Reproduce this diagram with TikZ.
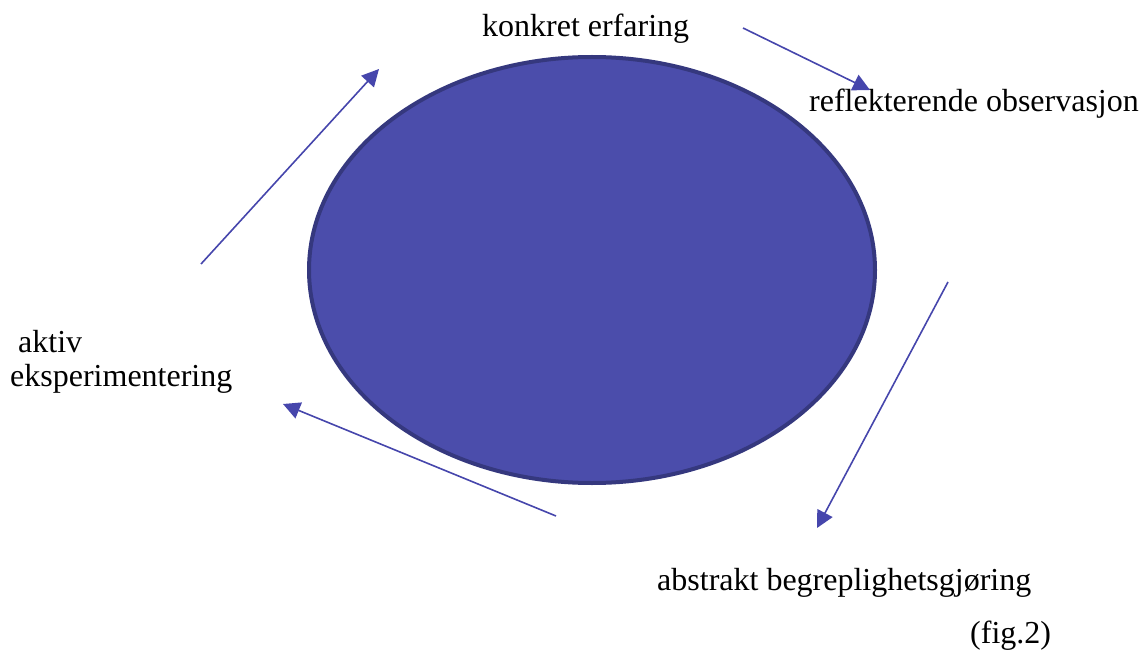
\documentclass[tikz,border=0pt]{standalone}
\usepackage{fontspec}
\setmainfont{Liberation Serif}
\usetikzlibrary{arrows.meta}
\definecolor{ellfill}{HTML}{4B4DAB}
\definecolor{elldraw}{HTML}{35387E}
\definecolor{arrcol}{HTML}{4646AC}
\tikzset{
  lbl/.style={anchor=base west, inner sep=0pt, font=\fontsize{32}{38}\selectfont},
  cyclearrow/.style={draw=arrcol, line width=1.6pt, -{Triangle[length=17pt,width=17pt]}}
}
\begin{document}
\begin{tikzpicture}[x=1pt,y=-1pt]
\useasboundingbox (0,0) rectangle (1141,650);
\draw[fill=ellfill, draw=elldraw, line width=4pt] (592,270) ellipse [x radius=283, y radius=213];
\node[lbl] (ke) at (482,37) {konkret erfaring};
\node[lbl] (ro) at (809,112) {reflekterende observasjon};
\node[lbl] (ak) at (18,352) {aktiv};
\node[lbl] (ex) at (10,386) {eksperimentering};
\node[lbl] (ab) at (657,590) {abstrakt begreplighetsgjøring};
\node[lbl] (fg) at (970,643) {(fig.2)};
\coordinate (a1s) at (743,28);  \coordinate (a1e) at (870,90);
\coordinate (a2s) at (948,282); \coordinate (a2e) at (817,528);
\coordinate (a3s) at (556,516); \coordinate (a3e) at (283,404);
\coordinate (a4s) at (201,264); \coordinate (a4e) at (379,69);
\draw[cyclearrow] (a1s) -- (a1e);
\draw[cyclearrow] (a2s) -- (a2e);
\draw[cyclearrow] (a3s) -- (a3e);
\draw[cyclearrow] (a4s) -- (a4e);
\end{tikzpicture}
\end{document}
